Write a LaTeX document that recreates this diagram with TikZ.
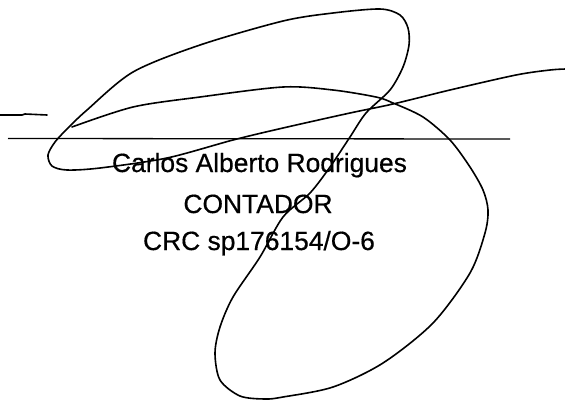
\documentclass[tikz,border=0pt]{standalone}
\usepackage{fontspec}
\setmainfont{Liberation Sans}[FakeBold=0.5]
\begin{document}
\begin{tikzpicture}[x=1pt,y=-1pt,
  ink/.style={line width=1.6pt, line cap=round, line join=round},
  rule/.style={line width=1.3pt},
  label/.style={anchor=base, inner sep=0pt, font=\fontsize{26.4}{30}\selectfont}]
\useasboundingbox (0,0) rectangle (565,400);
% signature line
\draw[rule] (8,138.5) -- (510,139);
% short stroke at left
\draw[ink] (0,115) -- (22,115) -- (25,114) -- (47,115);
% texts
\node[label] (name) at (259.5,172) {Carlos Alberto Rodrigues};
\node[label] (title) at (258,213) {CONTADOR};
\node[label] (reg) at (259,250) {CRC sp176154/O-6};
% signature
\draw[ink] plot[smooth, tension=0.5] coordinates {
 (566,69) (550,70) (516,75) (450,90) (393,104) (350,113) (283,128) (233,140)
 (167,158) (100,168) (67,170) (52,166) (48,155) (55,142) (68,128) (87,110)
 (133,72) (200,45) (283,21) (333,13) (380,9) (400,15) (408,28) (409,45)
 (403,67) (390,90) (366,113) (350,137) (330,167) (310,193) (283,217)
 (260,257) (233,297) (220,327) (215,353) (220,380) (240,396) (265,399)
 (283,397) (333,387) (383,363) (433,323) (470,273) (485,233) (488,210)
 (483,190) (470,167) (450,140) (423,117) (393,103) (376,97) (333,90)
 (283,87) (200,97) (133,107) (72,127)};
\end{tikzpicture}
\end{document}
